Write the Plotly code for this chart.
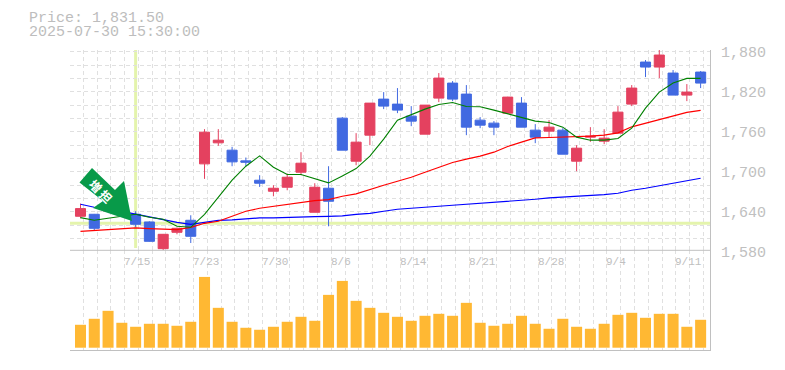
import plotly.graph_objects as go

# ---------- data ----------
dates = ["7/9","7/10","7/11","7/14","7/15","7/16","7/17","7/18","7/22","7/23","7/24","7/25","7/28","7/29","7/30",
         "7/31","8/1","8/4","8/5","8/6","8/7","8/8","8/12","8/13","8/14","8/15","8/18","8/19","8/20","8/21",
         "8/22","8/25","8/26","8/27","8/28","8/29","9/1","9/2","9/3","9/4","9/5","9/8","9/9","9/10","9/11","9/12"]
index = list(range(46))
opens = [1633.5,1636.5,1641.5,1652,1636.5,1625,1585,1609.5,1627.5,1712,1743.5,1732.5,1716.5,1687.5,1671,
         1677,1699.5,1639.5,1675.5,1780.5,1716,1755,1809,1801.5,1783.5,1756.5,1810.5,1833,1816.5,1777.5,
         1773,1788,1803,1762.5,1761,1762.5,1716,1752,1746,1758,1801.5,1864.5,1857,1848,1815,1849.5]
highs = [1652.5,1637,1660,1656,1641,1626,1607,1616.5,1635,1764,1764,1737.5,1721.5,1695,1680,
         1697.5,1729.5,1683,1708.5,1782,1758,1803,1819.5,1825.5,1798.5,1800,1848,1836,1830,1782,
         1776,1812.5,1812,1771.5,1777.5,1765.5,1740,1767,1764,1798.5,1830,1867.5,1882.5,1852.5,1831.5,1851]
lows = [1630.5,1612.5,1640,1640,1617.5,1595.5,1583,1606.5,1593.5,1689.5,1739,1708.5,1708.5,1677.5,1663.5,
        1672.5,1695,1639.5,1618.5,1732.5,1710,1740,1794,1788,1768.5,1756.5,1804.5,1806,1755,1765.5,
        1755,1788,1767,1743,1752,1726.5,1701,1745,1741.5,1758,1798.5,1842,1840.5,1815,1806,1825.5]
closes = [1645,1615.5,1655,1643,1621.5,1596,1606.5,1615.5,1603.5,1759.5,1747.5,1715,1714.5,1683,1675.5,
          1692,1713,1677,1656,1732.5,1744.5,1803,1798.5,1792.5,1776,1800,1840.5,1809,1767,1770,
          1767,1812,1767,1752,1767,1726.5,1735.5,1753.5,1750.5,1789.5,1825.5,1857,1875,1815,1819.5,1833]
ma_short = [1631.5,1627.5,1630.5,1633.5,1636.5,1632,1629,1618.5,1617,1636.5,1662,1687.5,1708.5,1724,1707,
            1696,1696,1690,1683.5,1694,1705,1723.5,1749,1777.5,1786,1794,1801,1804,1798,1797.5,
            1792.5,1787,1780.5,1776,1774,1767,1752,1747.5,1747.5,1750,1765.5,1795.5,1819.5,1833,1840,1840]
ma_mid = [1611,1612,1613.5,1615,1616,1615,1614,1613.5,1617,1623,1626,1633.5,1641,1645.5,1648.5,
          1651.5,1654.5,1657,1658.5,1663.5,1667,1674,1680,1686,1692,1699.5,1707,1714,1719,1723.5,
          1729.5,1738,1744.5,1751,1751.5,1752,1752,1753.5,1755,1758.5,1767.5,1773,1779,1784,1789,1792]
ma_long = [1651.5,1647,1645,1641,1636.5,1632,1628,1624.5,1621.5,1624,1627.5,1628,1630,1631,1631,
           1632,1633,1633,1633.5,1634,1636.5,1638,1641,1644,1645.5,1647.5,1648.5,1650,1651.5,1652,
           1654,1656,1657.5,1659,1661,1662,1663.5,1664,1666,1668,1672.5,1675.5,1679,1682.5,1686,1690.5]
volume = [23,29,37,25,21,24,24,22,26,71,40,26,20,18,21,26,31,27,53,67,47,40,35,31,27,32,34,32,45,25,
          22,24,32,24,19,29,21,19,24,33,35,30,34,34,21,28]
date_label_idx = [4,9,14,19,24,29,34,39,44]
price_labels = [1880,1820,1760,1700,1640,1580]
grid_prices = list(range(1600,1881,20))
support_price = 1623
marker_idx = 4
title_lines = ["Price: 1,831.50","2025-07-30 15:30:00"]
arrow_text = "増 担"

# ---------- layout ----------
W,H = 785,370
L,R,T,B = 70,710,50,350
PANEL = 250.3
X0,X1 = -0.762,45.68
Y0,Y1 = 1582.55,1882.55
RED,BLUE = "#e4415f","#4169e1"
TXT = "#c0c0c0"
GRID = "#e0e0e0"
YEL = "#e4f4ac"
px = lambda x:(x-L)/(R-L)
py = lambda y:(B-y)/(B-T)
price_y = lambda p:(1957.55-p)/1.5

fig = go.Figure()
fig.add_trace(go.Scatter(x=index,y=ma_long,mode="lines",line=dict(color="#0000ff",width=1.2),hoverinfo="skip"))
fig.add_trace(go.Scatter(x=index,y=ma_mid,mode="lines",line=dict(color="#ff0000",width=1.2),hoverinfo="skip"))
fig.add_trace(go.Scatter(x=index,y=ma_short,mode="lines",line=dict(color="#008000",width=1.1),hoverinfo="skip"))
fig.add_trace(go.Candlestick(x=index,open=opens,high=highs,low=lows,close=closes,
    increasing=dict(line=dict(color=RED,width=1),fillcolor=RED),
    decreasing=dict(line=dict(color=BLUE,width=1),fillcolor=BLUE),whiskerwidth=0))
fig.add_trace(go.Bar(x=index,y=volume,yaxis="y2",marker=dict(color="#ffb833",line=dict(width=0)),width=0.8))

grid_x = [X0+0.005]+[i+0.2 for i in index if i+0.2<X1]
fig.update_layout(
    width=W,height=H,autosize=False,showlegend=False,
    margin=dict(l=L,r=W-R,t=T,b=H-B,pad=0),
    paper_bgcolor="white",plot_bgcolor="white",
    font=dict(family="Liberation Mono",color=TXT,size=15),
    boxgap=0.27,boxgroupgap=0,bargap=0.2,
    xaxis=dict(range=[X0,X1],anchor="y2",tickvals=grid_x,showticklabels=False,ticks="",
               showgrid=True,gridcolor=GRID,griddash="4px,3px",gridwidth=1,zeroline=False,
               showline=True,linecolor="#c0c0c0",linewidth=1,rangeslider=dict(visible=False)),
    yaxis=dict(range=[Y0,Y1],domain=[(B-PANEL)/(B-T),1],side="right",anchor="x",
               tickvals=grid_prices+[Y1-0.3],showticklabels=False,ticks="",
               showgrid=True,gridcolor=GRID,griddash="4px,3px",gridwidth=1,zeroline=False,
               showline=True,linecolor="#c0c0c0",linewidth=1),
    yaxis2=dict(range=[-2.3,97.7],domain=[0,(B-PANEL)/(B-T)],side="right",anchor="x",
                showticklabels=False,ticks="",showgrid=False,zeroline=False,
                showline=True,linecolor="#c0c0c0",linewidth=1),
)

shapes = [
    dict(type="line",xref="paper",yref="y",x0=0,x1=1,y0=support_price,y1=support_price,
         line=dict(color=YEL,width=3),layer="below"),
    dict(type="line",xref="x",yref="paper",x0=marker_idx,x1=marker_idx,y0=py(248),y1=1,
         line=dict(color=YEL,width=3),layer="below"),
    dict(type="line",xref="paper",yref="paper",x0=0,x1=1,y0=py(PANEL),y1=py(PANEL),
         line=dict(color="#c0c0c0",width=1),layer="above"),
]
# signal arrow, drawn in page pixels
pts = [(92,168),(79.5,182.5),(103,201),(93,208),(132,221),(124,181),(115,190)]
path = "M "+" L ".join(f"{px(a):.5f},{py(b):.5f}" for a,b in pts)+" Z"
shapes.append(dict(type="path",xref="paper",yref="paper",path=path,fillcolor="#089a49",line=dict(width=0),layer="above"))
fig.update_layout(shapes=shapes)

ann = []
for line,yc in zip(title_lines,[18.5,32.5]):
    ann.append(dict(text=line,xref="paper",yref="paper",x=px(27),y=py(yc),xanchor="left",yanchor="middle",
                    showarrow=False,font=dict(size=15,color="#bdbdbd")))
for p in price_labels:
    ann.append(dict(text=f"{p:,}",xref="paper",yref="paper",x=px(718.5),y=py(price_y(p)+2),xanchor="left",
                    yanchor="middle",showarrow=False,font=dict(size=15,color=TXT)))
for i in date_label_idx:
    ann.append(dict(text=dates[i],xref="x",yref="paper",x=i,y=py(261.5),xanchor="left",xshift=-13.5,
                    yanchor="middle",showarrow=False,font=dict(size=11,color=TXT)))
ann.append(dict(text=f"<b>{arrow_text}</b>",xref="paper",yref="paper",x=px(101),y=py(190.5),xanchor="center",yanchor="middle",
                showarrow=False,textangle=45,font=dict(family="Noto Sans CJK JP",size=12,color="white")))
fig.update_layout(annotations=ann)

fig.write_html("out.html",config=dict(displayModeBar=False),
               post_script="document.body.style.margin='0';document.body.style.overflow='hidden';")
